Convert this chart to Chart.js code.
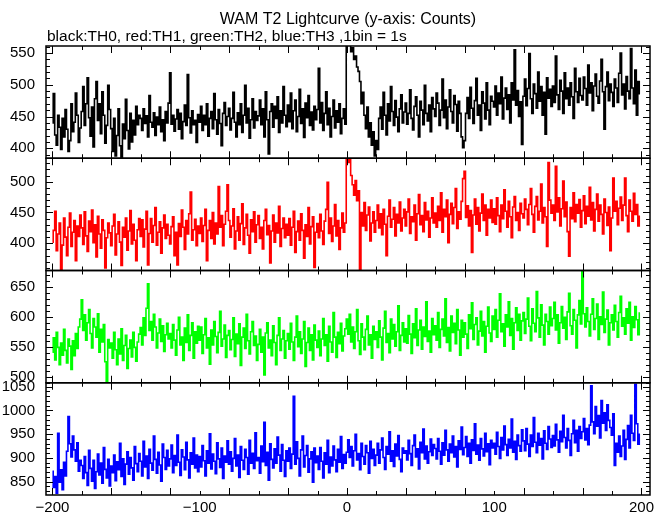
<!DOCTYPE html>
<html>
<head>
<meta charset="utf-8">
<title>WAM T2 Lightcurve</title>
<script src="https://cdn.jsdelivr.net/npm/chart.js@4.4.1/dist/chart.umd.min.js"></script>
<style>
  html, body { margin: 0; padding: 0; background: #fff; }
  #wrap { width: 669px; height: 515px; }
</style>
</head>
<body>
<div id="wrap"><canvas id="lc" width="669" height="515"></canvas></div>
<script>
// ---- texts ----
const TITLE = 'WAM T2 Lightcurve (y-axis: Counts)';
const SUBTITLE = 'black:TH0, red:TH1, green:TH2, blue:TH3 ,1bin = 1s';

// ---- time bins (1 bin = 1 s, first bin at -200 s) ----
const T_START = -200;
const BIN = 1;
const xRange = [-204.4, 205.8];
const xTickVals = [-200, -100, 0, 100, 200];

// ---- counts per bin, 20 bins per row ----
const th0 = [
  440, 486, 421, 405, 452, 433, 398, 447, 418, 461, 430, 395, 412, 470, 426, 441, 487, 452, 409, 432,
  458, 497, 436, 470, 511, 448, 419, 465, 402, 478, 505, 444, 470, 423, 489, 452, 408, 436, 499, 461,
  431, 395, 447, 388, 420, 462, 404, 386, 438, 415, 477, 428, 399, 455, 410, 444, 421, 466, 437, 452,
  447, 428, 462, 439, 451, 418, 483, 441, 433, 456, 420, 449, 437, 465, 426, 445, 412, 458, 440, 471,
  519, 438, 452, 427, 446, 461, 430, 455, 415, 442, 468, 436, 516, 448, 424, 459, 437, 444, 409, 453,
  441, 466, 428, 452, 437, 470, 419, 447, 458, 431, 486, 445, 422, 461, 439, 404, 455, 472, 436, 450,
  463, 429, 447, 488, 441, 418, 456, 437, 470, 425, 452, 499, 440, 463, 416, 445, 478, 432, 458, 444,
  451, 476, 437, 462, 418, 489, 445, 391, 458, 470, 433, 466, 447, 481, 425, 459, 440, 497, 452, 434,
  468, 442, 487, 431, 459, 476, 426, 450, 493, 439, 462, 417, 471, 448, 483, 436, 457, 429, 466, 445,
  461, 526, 440, 472, 428, 455, 489, 437, 463, 418, 450, 476, 432, 459, 441, 470, 423, 447, 462, 438,
  580, 575, 566, 552, 558, 540, 545, 528, 521, 505, 470, 488, 452, 431, 465, 418, 440, 405, 426, 388,
  412, 398, 447, 465, 430, 488, 452, 421, 470, 443, 497, 458, 436, 475, 449, 426, 462, 484, 440, 457,
  471, 438, 455, 492, 447, 429, 466, 481, 452, 418, 474, 460, 437, 499, 455, 443, 468, 426, 480, 462,
  450, 487, 471, 436, 460, 509, 448, 476, 431, 465, 492, 458, 440, 483, 469, 427, 474, 455, 418, 401,
  412, 455, 480, 447, 496, 463, 439, 475, 510, 452, 468, 428, 489, 471, 446, 503, 460, 437, 482, 474,
  465, 498, 452, 487, 470, 512, 446, 479, 495, 461, 484, 440, 503, 476, 555, 468, 491, 450, 473, 406,
  482, 509, 467, 494, 549, 478, 455, 501, 486, 463, 520, 474, 497, 452, 488, 422, 511, 479, 493, 466,
  498, 472, 545, 484, 461, 507, 490, 455, 519, 478, 495, 468, 503, 481, 447, 526, 489, 472, 510, 483,
  476, 512, 494, 468, 531, 487, 503, 459, 498, 517, 482, 471, 506, 540, 489, 430, 497, 520, 475, 501,
  488, 466, 509, 495, 472, 518, 550, 484, 501, 462, 513, 490, 478, 557, 495, 470, 523, 452, 505, 486
];
const th1 = [
  402, 421, 452, 388, 415, 433, 358, 397, 441, 410, 380, 426, 449, 395, 418, 437, 372, 428, 411, 446,
  425, 398, 451, 412, 387, 436, 419, 454, 401, 430, 378, 444, 415, 392, 438, 421, 360, 409, 433, 417,
  396, 428, 447, 381, 415, 435, 402, 364, 426, 410, 441, 389, 420, 453, 399, 431, 405, 372, 422, 440,
  411, 438, 394, 423, 452, 365, 416, 440, 402, 429, 458, 397, 418, 435, 384, 425, 446, 408, 431, 413,
  399, 427, 443, 380, 418, 365, 432, 411, 454, 426, 390, 437, 415, 448, 483, 405, 422, 439, 396, 428,
  416, 441, 403, 429, 455, 372, 421, 437, 408, 450, 399, 433, 415, 492, 426, 445, 396, 431, 452, 495,
  437, 410, 428, 456, 391, 420, 443, 405, 432, 464, 398, 425, 447, 413, 384, 438, 419, 451, 402, 430,
  445, 408, 426, 391, 437, 455, 414, 429, 368, 420, 446, 402, 433, 417, 460, 395, 424, 441, 409, 431,
  413, 440, 397, 426, 452, 385, 419, 436, 405, 448, 421, 376, 430, 411, 458, 399, 427, 443, 361, 418,
  432, 409, 447, 420, 398, 436, 455, 499, 416, 441, 403, 428, 463, 412, 437, 390, 425, 449, 418, 433,
  536, 531, 537, 510, 495, 478, 502, 469, 485, 357, 450, 428, 466, 421, 446, 459, 404, 433, 451, 418,
  437, 462, 425, 448, 414, 455, 431, 380, 444, 470, 426, 439, 458, 412, 447, 433, 467, 420, 441, 455,
  428, 451, 472, 416, 443, 435, 462, 405, 448, 479, 430, 445, 419, 466, 438, 452, 410, 441, 474, 433,
  449, 426, 460, 437, 482, 418, 455, 443, 470, 401, 447, 465, 432, 458, 489, 424, 451, 439, 468, 505,
  517, 442, 461, 428, 453, 385, 446, 472, 431, 458, 420, 449, 480, 437, 462, 413, 455, 441, 470, 434,
  456, 431, 474, 445, 419, 462, 440, 487, 452, 426, 468, 443, 409, 459, 476, 437, 450, 421, 465, 448,
  441, 472, 455, 430, 463, 489, 447, 418, 460, 476, 438, 452, 496, 433, 458, 443, 395, 531, 470, 449,
  462, 437, 525, 451, 474, 428, 456, 501, 443, 467, 419, 379, 458, 440, 482, 435, 463, 449, 471, 426,
  453, 477, 432, 460, 444, 491, 438, 466, 420, 455, 480, 436, 462, 447, 415, 472, 450, 429, 459, 388,
  441, 506, 452, 468, 430, 457, 475, 437, 462, 506, 445, 419, 470, 452, 436, 481, 447, 463, 428, 444
];
const th2 = [
  541, 565, 528, 574, 549, 520, 556, 536, 579, 544, 523, 563, 551, 512, 560, 535, 572, 547, 583, 596,
  628, 577, 603, 561, 590, 612, 572, 548, 597, 583, 566, 605, 541, 579, 558, 587, 525, 492, 562, 548,
  556, 531, 574, 545, 520, 563, 538, 580, 527, 552, 569, 514, 547, 561, 533, 574, 549, 526, 558, 571,
  582, 553, 598, 569, 614, 655, 577, 592, 561, 604, 583, 548, 573, 596, 559, 585, 542, 570, 589, 563,
  572, 548, 587, 561, 536, 578, 599, 553, 566, 527, 581, 557, 603, 544, 569, 590, 531, 575, 556, 584,
  561, 583, 539, 570, 597, 548, 565, 521, 578, 553, 592, 567, 540, 574, 609, 551, 563, 586, 532, 569,
  577, 545, 562, 598, 534, 571, 555, 588, 519, 566, 581, 547, 604, 560, 538, 575, 592, 552, 568, 527,
  554, 579, 541, 566, 503, 573, 590, 548, 561, 535, 585, 557, 520, 569, 598, 544, 563, 577, 531, 560,
  572, 546, 589, 558, 527, 566, 601, 550, 575, 539, 563, 592, 517, 557, 581, 544, 570, 528, 586, 561,
  549, 576, 535, 563, 597, 552, 570, 526, 584, 558, 541, 607, 566, 532, 574, 555, 589, 543, 568, 580,
  596, 571, 604, 558, 583, 547, 575, 612, 560, 537, 588, 566, 545, 579, 601, 553, 570, 531, 584, 562,
  575, 549, 593, 566, 528, 581, 609, 557, 572, 540, 596, 563, 587, 551, 575, 618, 544, 569, 590, 558,
  580, 556, 602, 571, 539, 588, 565, 613, 552, 578, 594, 546, 583, 567, 625, 559, 576, 541, 597, 570,
  585, 561, 607, 549, 579, 596, 568, 630, 557, 582, 543, 601, 574, 589, 555, 612, 578, 536, 594, 566,
  590, 571, 547, 603, 580, 623, 562, 587, 598, 553, 576, 609, 568, 592, 541, 584, 616, 573, 559, 601,
  579, 612, 566, 594, 638, 575, 588, 551, 603, 583, 625, 569, 597, 546, 590, 615, 577, 604, 561, 593,
  607, 572, 596, 631, 584, 560, 613, 589, 575, 642, 598, 566, 620, 586, 553, 604, 592, 571, 616, 585,
  597, 624, 578, 603, 556, 590, 617, 581, 599, 562, 608, 639, 585, 571, 612, 594, 548, 603, 627, 588,
  676, 605, 583, 615, 592, 568, 604, 630, 579, 597, 621, 562, 600, 587, 641, 574, 596, 611, 553, 590,
  603, 578, 619, 592, 566, 607, 634, 584, 598, 571, 613, 589, 624, 561, 600, 582, 617, 595, 570, 606
];
const th3 = [
  872, 838, 861, 826, 952, 849, 875, 833, 891, 862, 914, 987, 930, 902, 946, 917, 893, 932, 872, 895,
  884, 857, 903, 869, 842, 916, 878, 851, 895, 836, 871, 908, 864, 889, 847, 922, 876, 858, 897, 841,
  883, 869, 906, 852, 892, 875, 931, 861, 898, 844, 887, 913, 866, 901, 879, 853, 924, 888, 871, 909,
  893, 862, 935, 881, 904, 857, 918, 889, 874, 946, 897, 868, 912, 885, 851, 929, 901, 876, 916, 883,
  898, 927, 869, 905, 884, 948, 891, 863, 917, 902, 875, 933, 896, 858, 911, 887, 942, 879, 906, 871,
  903, 881, 926, 894, 862, 915, 889, 951, 877, 908, 893, 867, 932, 898, 880, 921, 857, 904, 891, 936,
  887, 913, 872, 899, 941, 883, 906, 859, 924, 895, 876, 918, 901, 866, 937, 889, 910, 878, 953, 894,
  901, 868, 925, 892, 975, 884, 912, 853, 930, 897, 879, 919, 889, 944, 906, 872, 928, 895, 861, 915,
  893, 921, 878, 908, 1030, 887, 934, 899, 862, 917, 946, 881, 905, 926, 870, 898, 913, 849, 921, 890,
  904, 876, 922, 893, 858, 911, 887, 937, 869, 902, 883, 925, 896, 871, 918, 891, 945, 878, 907, 889,
  912, 938, 901, 924, 883, 915, 950, 896, 909, 875, 931, 903, 887, 926, 911, 868, 935, 899, 918, 884,
  906, 931, 889, 917, 942, 901, 876, 924, 908, 955, 893, 915, 882, 929, 904, 947, 897, 871, 921, 910,
  915, 896, 937, 909, 884, 926, 948, 902, 919, 877, 933, 911, 961, 898, 925, 889, 913, 940, 905, 928,
  920, 898, 941, 914, 887, 932, 906, 958, 917, 893, 929, 911, 946, 902, 924, 881, 936, 918, 965, 907,
  922, 945, 903, 931, 889, 938, 916, 972, 908, 927, 895, 941, 919, 904, 952, 913, 930, 886, 937, 921,
  931, 908, 954, 924, 899, 943, 917, 967, 928, 905, 939, 921, 982, 912, 935, 897, 948, 926, 914, 959,
  936, 915, 962, 929, 903, 948, 924, 985, 933, 911, 952, 927, 941, 898, 957, 931, 918, 966, 940, 922,
  947, 925, 971, 938, 912, 956, 934, 990, 943, 921, 962, 937, 905, 951, 979, 932, 958, 914, 966, 941,
  955, 983, 938, 962, 928, 969, 1052, 976, 951, 1008, 967, 989, 942, 1021, 973, 995, 958, 1012, 979, 964,
  948, 993, 884, 931, 912, 946, 903, 925, 958, 897, 939, 968, 921, 990, 952, 937, 1055, 972, 929, 950
];

// ---- y ranges and tick labels of the four panels (top to bottom) ----
const rangeTH0 = [384.3, 561];
const rangeTH1 = [355.9, 538];
const rangeTH2 = [490, 677];
const rangeTH3 = [822, 1058.3];
const ticksTH0 = [400, 450, 500, 550];
const ticksTH1 = [400, 450, 500];
const ticksTH2 = [500, 550, 600, 650];
const ticksTH3 = [850, 900, 950, 1000, 1050];

const FONT = 'Liberation Sans, Arial, Helvetica, sans-serif';

const panels = [
  { id: 'y0', label: 'TH0', values: th0, color: '#000000', range: rangeTH0, ticks: ticksTH0 },
  { id: 'y1', label: 'TH1', values: th1, color: '#ff0000', range: rangeTH1, ticks: ticksTH1 },
  { id: 'y2', label: 'TH2', values: th2, color: '#00ff00', range: rangeTH2, ticks: ticksTH2 },
  { id: 'y3', label: 'TH3', values: th3, color: '#0000ff', range: rangeTH3, ticks: ticksTH3 }
];

function toPoints(values) {
  return values.map((v, i) => ({ x: T_START + i * BIN, y: v }));
}

function yScale(p) {
  return {
    type: 'linear',
    position: 'left',
    stack: 'lc',
    stackWeight: 1,
    min: p.range[0],
    max: p.range[1],
    grid: { display: false, drawTicks: false },
    border: { display: false },
    ticks: {
      color: '#000',
      padding: 11,
      autoSkip: false,
      font: { family: FONT, size: 15 },
      callback: v => String(v)
    },
    afterBuildTicks: s => { s.ticks = p.ticks.map(v => ({ value: v })); },
    afterFit: s => { s.width = 46; }
  };
}

// later scales in a left stack are laid out on top, so add the bottom panel first
const scales = {
  x: {
    type: 'linear',
    min: xRange[0],
    max: xRange[1],
    grid: { display: false, drawTicks: false },
    border: { display: false },
    ticks: {
      color: '#000',
      padding: 4,
      maxRotation: 0,
      autoSkip: false,
      font: { family: FONT, size: 15 },
      callback: v => String(v).replace('-', '\u2212')
    },
    afterBuildTicks: s => { s.ticks = xTickVals.map(v => ({ value: v })); },
    afterFit: s => { s.height = 20; }
  }
};
[...panels].reverse().forEach(p => { scales[p.id] = yScale(p); });

// keep each curve inside its own panel
const panelClip = {
  id: 'panelClip',
  beforeDatasetDraw(chart, args) {
    const ys = chart.scales[args.meta.yAxisID];
    const a = chart.chartArea;
    chart.ctx.save();
    chart.ctx.beginPath();
    chart.ctx.rect(a.left, ys.top, a.right - a.left, ys.bottom - ys.top);
    chart.ctx.clip();
  },
  afterDatasetDraw(chart) {
    chart.ctx.restore();
  }
};

// boxes with inward ticks, like the original plot
const frame = {
  id: 'frame',
  afterDatasetsDraw(chart) {
    const { ctx, chartArea: a, scales: sc } = chart;
    const xs = sc.x;
    ctx.save();
    ctx.strokeStyle = '#000';
    panels.forEach(p => {
      const ys = sc[p.id];
      ctx.lineWidth = 1.5;
      ctx.strokeRect(a.left, ys.top, a.right - a.left, ys.bottom - ys.top);

      ctx.lineWidth = 1;
      ctx.beginPath();
      for (let v = -200; v <= 200; v += 20) {
        const px = Math.round(xs.getPixelForValue(v)) + 0.5;
        const len = v % 40 === 0 ? 7 : 4;
        ctx.moveTo(px, ys.top); ctx.lineTo(px, ys.top + len);
        ctx.moveTo(px, ys.bottom); ctx.lineTo(px, ys.bottom - len);
      }
      for (let v = Math.ceil(p.range[0] / 10) * 10; v <= p.range[1]; v += 10) {
        const py = Math.round(ys.getPixelForValue(v)) + 0.5;
        const len = v % 50 === 0 ? 7 : 4;
        ctx.moveTo(a.left, py); ctx.lineTo(a.left + len, py);
        ctx.moveTo(a.right, py); ctx.lineTo(a.right - len, py);
      }
      ctx.stroke();
    });
    ctx.restore();
  },
  afterDraw(chart) {
    const { ctx, chartArea: a } = chart;
    ctx.save();
    ctx.fillStyle = '#000';
    ctx.textBaseline = 'alphabetic';
    ctx.font = '16px ' + FONT;
    ctx.textAlign = 'center';
    ctx.fillText(TITLE, (a.left + a.right) / 2, 24);
    ctx.font = '15.5px ' + FONT;
    ctx.textAlign = 'left';
    ctx.fillText(SUBTITLE, 47, 41);
    ctx.restore();
  }
};

new Chart(document.getElementById('lc'), {
  type: 'line',
  data: {
    datasets: panels.map(p => ({
      label: p.label,
      data: toPoints(p.values),
      yAxisID: p.id,
      borderColor: p.color,
      backgroundColor: p.color,
      borderWidth: 1.6,
      pointRadius: 0,
      stepped: 'middle',
      fill: false
    }))
  },
  options: {
    responsive: false,
    animation: false,
    devicePixelRatio: 1,
    layout: { padding: { top: 46, right: 19, bottom: 0, left: 0 } },
    plugins: {
      legend: { display: false },
      tooltip: { enabled: false },
      title: { display: false }
    },
    scales: scales
  },
  plugins: [panelClip, frame]
});
</script>
</body>
</html>
